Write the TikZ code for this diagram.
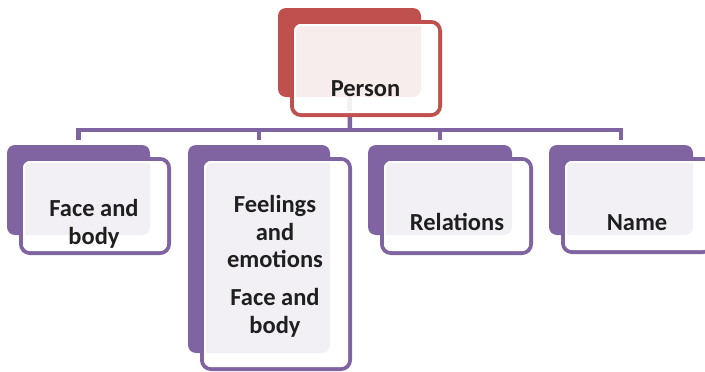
\documentclass[tikz,border=0pt]{standalone}
\usepackage{fontspec}
\setmainfont{Carlito}
\definecolor{accpurple}{HTML}{8064A2}
\definecolor{accred}{HTML}{C0504D}
\definecolor{inktext}{HTML}{1F1F1F}

% one stacked card: a filled back box (named #1) and an outlined,
% slightly see-through front box (named #1f) shifted down and right
% #2 colour, (#3,#4) back top-left, (#5,#6) back bottom-right,
% (#7,#8) outer bottom-right corner of the front box
\newcommand\stackcard[8]{%
  \node[backbox, fill=#2, minimum width={#5-#3}, minimum height={#6-#4},
        anchor=north west] (#1) at (#3,#4) {};
  \node[frontbox, draw=#2, minimum width={#7-#3-16}, minimum height={#8-#4-16},
        anchor=north west] (#1f) at (#3+14,#4+14) {};
  \draw[innerline] (#3+17,#4+17) rectangle (#7-5,#8-5);
}

\begin{document}
\begin{tikzpicture}[x=1pt, y=-1pt,
  backbox/.style={rectangle, rounded corners=8pt, inner sep=0pt, outer sep=0pt},
  frontbox/.style={rectangle, rounded corners=9pt, inner sep=0pt, outer sep=0pt,
                   line width=4pt, fill=white, fill opacity=0.9},
  innerline/.style={draw=white, line width=2pt, rounded corners=6pt},
  conn/.style={draw=accpurple, line width=4.5pt},
  lbl/.style={anchor=base, align=center, text=inktext,
              font=\fontsize{24.5}{27.5}\selectfont\bfseries}
]
\useasboundingbox (0,0) rectangle (705,372);
\clip (0,0) rectangle (705,372);

% junction of the bus bar under the top card
\coordinate (bus) at (350,130);

% back boxes that the connectors attach to
\node[backbox, minimum width=143, minimum height=89, anchor=north west] (person0) at (278,8) {};
\node[backbox, minimum width=143, minimum height=90, anchor=north west] (face0) at (7,145) {};
\node[backbox, minimum width=142, minimum height=208, anchor=north west] (feel0) at (188,145) {};
\node[backbox, minimum width=144, minimum height=90, anchor=north west] (rel0) at (368,145) {};
\node[backbox, minimum width=144, minimum height=90, anchor=north west] (name0) at (549,145) {};

% connectors, drawn beneath the cards
\draw[conn] (person0.south) -- (bus);
\draw[conn, shorten >=5pt] (bus) -| (face0.north);
\draw[conn, shorten >=5pt] (bus) -| (feel0.north);
\draw[conn, shorten >=5pt] (bus) -| (rel0.north);
\draw[conn, shorten >=5pt] (bus) -| (name0.north);

% cards
\stackcard{person}{accred}{278}{8}{421}{97}{442}{117}
\stackcard{face}{accpurple}{7}{145}{150}{235}{171}{255}
\stackcard{feel}{accpurple}{188}{145}{330}{353}{352}{371}
\stackcard{rel}{accpurple}{368}{145}{512}{235}{533}{255}
\stackcard{name}{accpurple}{549}{145}{693}{235}{714}{254}

% texts (base anchor = baseline of the last line)
\node[lbl] (tperson) at (365.5,96) {Person};
\node[lbl] (tface) at (94,244) {Face and\\body};
\node[lbl] (tfeel) at (275,333) {Feelings\\and\\emotions\\[10.5pt]Face and\\body};
\node[lbl] (trel) at (457,230) {Relations};
\node[lbl] (tname) at (637,230) {Name};
\end{tikzpicture}
\end{document}
